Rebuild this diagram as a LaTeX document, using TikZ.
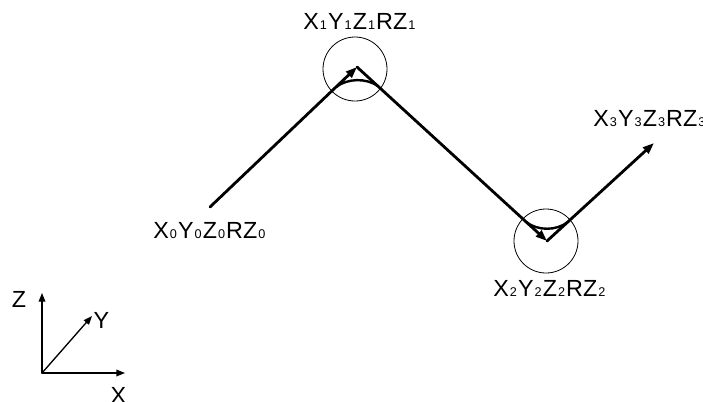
\documentclass[tikz,border=0pt]{standalone}
\usepackage{fontspec}
\setmainfont{Liberation Sans}
\usetikzlibrary{arrows.meta}

% small index digit sitting on the baseline
\newcommand{\ix}[1]{\kern0.8pt{\fontsize{9.5}{9.5}\selectfont #1}\kern0.8pt}
\newcommand{\pose}[1]{X\ix{#1}Y\ix{#1}Z\ix{#1}RZ\ix{#1}}

\tikzset{
  move/.style={line width=2.1pt,-{Triangle[length=8.5pt,width=6pt]}},
  turn/.style={line width=1.8pt},
  zone/.style={line width=0.6pt},
  axis/.style={line width=1pt,-{Triangle[length=6.5pt,width=5pt]}},
  poselabel/.style={inner sep=0pt,font=\fontsize{17.5}{19}\selectfont},
  axislabel/.style={inner sep=0pt,font=\fontsize{17.5}{19}\selectfont}
}

\begin{document}
\begin{tikzpicture}[line cap=round,line join=round,x=0.75pt,y=-0.75pt]
	\useasboundingbox (0,0) rectangle (703,401);
	% waypoints of the path
	\coordinate (p0) at (210,207);
	\coordinate (p1) at (357,67);
	\coordinate (p2) at (547,241);
	\coordinate (p3) at (654,143);
	% tolerance circles round the turning points
	\draw [zone] (355,69) circle (24pt);
	\draw [zone] (546,241) circle (24pt);
	% path segments
	\draw [move] (p0) -- (p1);
	\draw [move] (p1) -- (p2);
	\draw [move] (p2) -- (p3);
	% blended corners
	\draw [turn] (336,87) .. controls (348,78) and (366,78) .. (378,86);
	\draw [turn] (526,222) .. controls (538,231) and (556,231) .. (568,222);
	% pose labels
	\node [poselabel,anchor=base west] (l0) at (153,238.5) {\pose{0}};
	\node [poselabel,anchor=base west] (l1) at (303,29) {\pose{1}};
	\node [poselabel,anchor=base west] (l2) at (493,296) {\pose{2}};
	\node [poselabel,anchor=base west] (l3) at (593,126.5) {\pose{3}};
	% frame
	\coordinate (o) at (42,373);
	\coordinate (ax) at (125,373);
	\coordinate (ay) at (92,316);
	\coordinate (az) at (42,293);
	\draw [axis] (o) -- (ax);
	\draw [axis] (o) -- (ay);
	\draw [axis] (o) -- (az);
	\node [axislabel] (lx) at (118.5,395) {X};
	\node [axislabel] (ly) at (101.5,320) {Y};
	\node [axislabel] (lz) at (19,299) {Z};
\end{tikzpicture}
\end{document}
